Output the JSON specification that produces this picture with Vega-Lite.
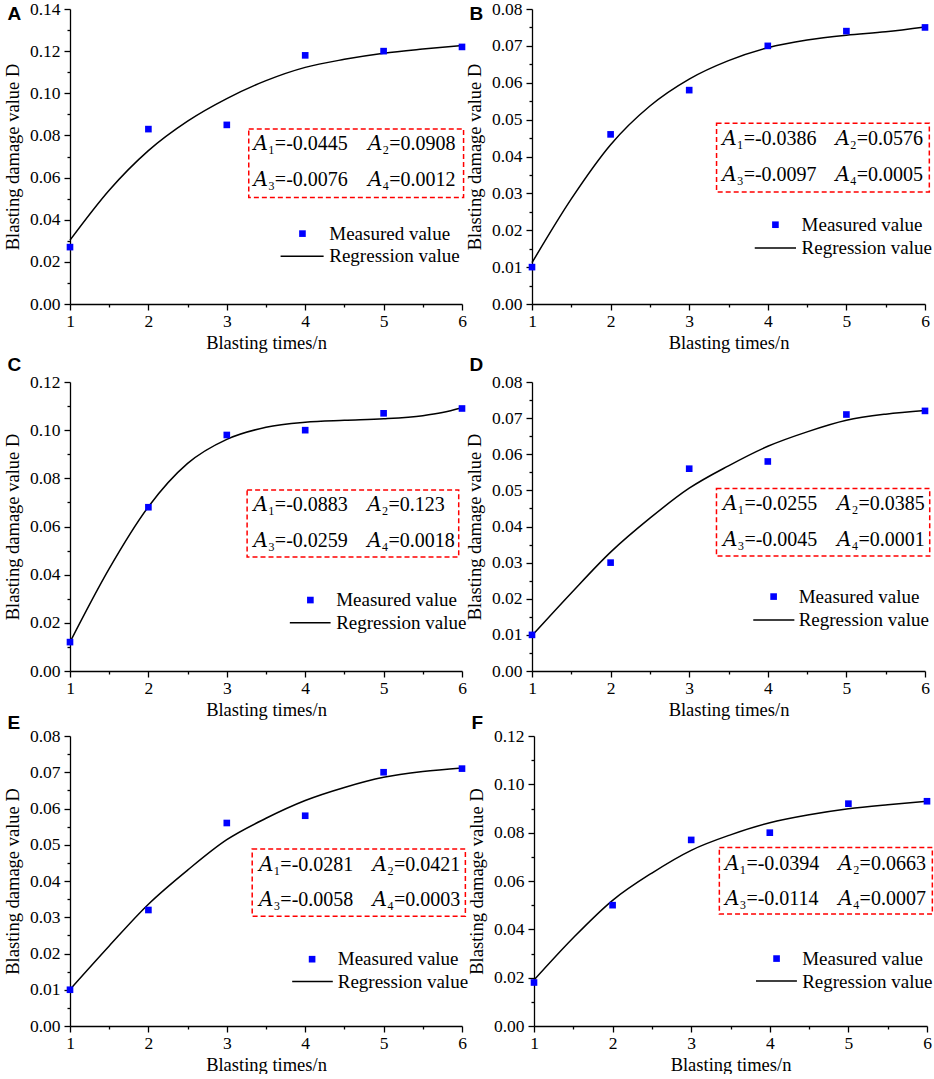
{
  "$schema": "https://vega.github.io/schema/vega-lite/v6.json",
  "padding": {"left": 3, "top": 0, "right": 0, "bottom": 0},
  "background": "white",
  "config": {
    "view": {"stroke": null},
    "font": "Liberation Serif",
    "axis": {"domainColor": "black", "domainWidth": 1.3, "tickColor": "black", "tickWidth": 1.3, "grid": false,
      "labelFont": "Liberation Serif", "labelFontSize": 17.5, "labelColor": "black", "labelFlush": false, "labelOverlap": false,
      "titleFont": "Liberation Serif", "titleFontSize": 18.5, "titleFontWeight": "normal", "titleColor": "black"},
    "axisX": {"titlePadding": 4, "labelPadding": 2},
    "axisY": {"titlePadding": 7, "labelPadding": 4},
    "title": {"font": "Liberation Sans", "fontSize": 19, "fontWeight": "bold", "anchor": "start", "frame": "bounds", "color": "black", "dx": 4},
    "text": {"font": "Liberation Serif, DejaVu Serif", "color": "black"}
  },
  "datasets": {
    "measured": [
      {"panel": "A", "n": 1, "D": 0.027}, {"panel": "A", "n": 2, "D": 0.083}, {"panel": "A", "n": 3, "D": 0.085},
      {"panel": "A", "n": 4, "D": 0.118}, {"panel": "A", "n": 5, "D": 0.120}, {"panel": "A", "n": 6, "D": 0.122},
      {"panel": "B", "n": 1, "D": 0.010}, {"panel": "B", "n": 2, "D": 0.046}, {"panel": "B", "n": 3, "D": 0.058},
      {"panel": "B", "n": 4, "D": 0.070}, {"panel": "B", "n": 5, "D": 0.074}, {"panel": "B", "n": 6, "D": 0.075},
      {"panel": "C", "n": 1, "D": 0.012}, {"panel": "C", "n": 2, "D": 0.068}, {"panel": "C", "n": 3, "D": 0.098},
      {"panel": "C", "n": 4, "D": 0.100}, {"panel": "C", "n": 5, "D": 0.107}, {"panel": "C", "n": 6, "D": 0.109},
      {"panel": "D", "n": 1, "D": 0.010}, {"panel": "D", "n": 2, "D": 0.030}, {"panel": "D", "n": 3, "D": 0.056},
      {"panel": "D", "n": 4, "D": 0.058}, {"panel": "D", "n": 5, "D": 0.071}, {"panel": "D", "n": 6, "D": 0.072},
      {"panel": "E", "n": 1, "D": 0.010}, {"panel": "E", "n": 2, "D": 0.032}, {"panel": "E", "n": 3, "D": 0.056},
      {"panel": "E", "n": 4, "D": 0.058}, {"panel": "E", "n": 5, "D": 0.070}, {"panel": "E", "n": 6, "D": 0.071},
      {"panel": "F", "n": 1, "D": 0.018}, {"panel": "F", "n": 2, "D": 0.050}, {"panel": "F", "n": 3, "D": 0.077},
      {"panel": "F", "n": 4, "D": 0.080}, {"panel": "F", "n": 5, "D": 0.092}, {"panel": "F", "n": 6, "D": 0.093}
    ],
    "curve": [
      {"panel": "A", "n": 1, "D": 0.0303}, {"panel": "A", "n": 1.5, "D": 0.054}, {"panel": "A", "n": 2, "D": 0.0728},
      {"panel": "A", "n": 2.5, "D": 0.0868}, {"panel": "A", "n": 3, "D": 0.0975}, {"panel": "A", "n": 3.5, "D": 0.106},
      {"panel": "A", "n": 4, "D": 0.1123}, {"panel": "A", "n": 4.5, "D": 0.1161}, {"panel": "A", "n": 5, "D": 0.119},
      {"panel": "A", "n": 5.5, "D": 0.121}, {"panel": "A", "n": 6, "D": 0.1227},
      {"panel": "B", "n": 1, "D": 0.0112}, {"panel": "B", "n": 1.5, "D": 0.0285}, {"panel": "B", "n": 2, "D": 0.0432},
      {"panel": "B", "n": 2.5, "D": 0.0537}, {"panel": "B", "n": 3, "D": 0.061}, {"panel": "B", "n": 3.5, "D": 0.066},
      {"panel": "B", "n": 4, "D": 0.0695}, {"panel": "B", "n": 4.5, "D": 0.0716}, {"panel": "B", "n": 5, "D": 0.0729},
      {"panel": "B", "n": 5.5, "D": 0.0738}, {"panel": "B", "n": 6, "D": 0.0751},
      {"panel": "C", "n": 1, "D": 0.012}, {"panel": "C", "n": 1.5, "D": 0.0425}, {"panel": "C", "n": 2, "D": 0.0682},
      {"panel": "C", "n": 2.5, "D": 0.0862}, {"panel": "C", "n": 3, "D": 0.0962}, {"panel": "C", "n": 3.5, "D": 0.1012},
      {"panel": "C", "n": 4, "D": 0.1033}, {"panel": "C", "n": 4.5, "D": 0.1041}, {"panel": "C", "n": 5, "D": 0.1047},
      {"panel": "C", "n": 5.5, "D": 0.106}, {"panel": "C", "n": 5.75, "D": 0.1073}, {"panel": "C", "n": 6, "D": 0.1093},
      {"panel": "D", "n": 1, "D": 0.0098}, {"panel": "D", "n": 1.5, "D": 0.0216}, {"panel": "D", "n": 2, "D": 0.0329},
      {"panel": "D", "n": 2.5, "D": 0.0423}, {"panel": "D", "n": 3, "D": 0.0506}, {"panel": "D", "n": 3.5, "D": 0.0568},
      {"panel": "D", "n": 4, "D": 0.0622}, {"panel": "D", "n": 4.5, "D": 0.0662}, {"panel": "D", "n": 5, "D": 0.0694},
      {"panel": "D", "n": 5.5, "D": 0.0711}, {"panel": "D", "n": 6, "D": 0.0721},
      {"panel": "E", "n": 1, "D": 0.0101}, {"panel": "E", "n": 1.5, "D": 0.0221}, {"panel": "E", "n": 2, "D": 0.0336},
      {"panel": "E", "n": 2.5, "D": 0.043}, {"panel": "E", "n": 3, "D": 0.0514}, {"panel": "E", "n": 3.5, "D": 0.0573},
      {"panel": "E", "n": 4, "D": 0.0622}, {"panel": "E", "n": 4.5, "D": 0.0658}, {"panel": "E", "n": 5, "D": 0.0686},
      {"panel": "E", "n": 5.5, "D": 0.0702}, {"panel": "E", "n": 6, "D": 0.0712},
      {"panel": "F", "n": 1, "D": 0.019}, {"panel": "F", "n": 1.5, "D": 0.0365}, {"panel": "F", "n": 2, "D": 0.052},
      {"panel": "F", "n": 2.5, "D": 0.0633}, {"panel": "F", "n": 3, "D": 0.0727}, {"panel": "F", "n": 3.5, "D": 0.0791},
      {"panel": "F", "n": 4, "D": 0.0841}, {"panel": "F", "n": 4.5, "D": 0.0874}, {"panel": "F", "n": 5, "D": 0.0899},
      {"panel": "F", "n": 5.5, "D": 0.0916}, {"panel": "F", "n": 6, "D": 0.093}
    ],
    "params": [
      {"panel": "A", "left": ["𝐴₁=-0.0445", "𝐴₃=-0.0076"], "right": ["𝐴₂=0.0908", "𝐴₄=0.0012"]},
      {"panel": "B", "left": ["𝐴₁=-0.0386", "𝐴₃=-0.0097"], "right": ["𝐴₂=0.0576", "𝐴₄=0.0005"]},
      {"panel": "C", "left": ["𝐴₁=-0.0883", "𝐴₃=-0.0259"], "right": ["𝐴₂=0.123", "𝐴₄=0.0018"]},
      {"panel": "D", "left": ["𝐴₁=-0.0255", "𝐴₃=-0.0045"], "right": ["𝐴₂=0.0385", "𝐴₄=0.0001"]},
      {"panel": "E", "left": ["𝐴₁=-0.0281", "𝐴₃=-0.0058"], "right": ["𝐴₂=0.0421", "𝐴₄=0.0003"]},
      {"panel": "F", "left": ["𝐴₁=-0.0394", "𝐴₃=-0.0114"], "right": ["𝐴₂=0.0663", "𝐴₄=0.0007"]}
    ]
  },
  "spacing": 4,
  "vconcat": [
    {
      "spacing": -2,
      "hconcat": [
        {
          "width": 392, "height": 295,
          "title": {"text": "A", "offset": -24},
          "resolve": {"axis": {"x": "independent", "y": "independent"}},
          "layer": [
            {
              "encoding": {
                "x": {"field": "n", "type": "quantitative", "title": "Blasting times/n", "scale": {"domain": [1, 6], "nice": false},
                  "axis": {"orient": "bottom", "values": [1, 1.5, 2, 2.5, 3, 3.5, 4, 4.5, 5, 5.5, 6], "labelExpr": "datum.value % 1 === 0 ? format(datum.value, 'd') : ''",
                    "tickSize": {"condition": {"test": "datum.value % 1 === 0", "value": 6}, "value": 3}}},
                "y": {"field": "D", "type": "quantitative", "title": "Blasting damage value D", "scale": {"domain": [0, 0.14], "nice": false},
                  "axis": {"orient": "left", "values": [0, 0.01, 0.02, 0.03, 0.04, 0.05, 0.06, 0.07, 0.08, 0.09, 0.1, 0.11, 0.12, 0.13, 0.14],
                    "labelExpr": "abs(datum.value*50 - round(datum.value*50)) < 1e-6 ? format(datum.value, '.2f') : ''",
                    "tickSize": {"condition": {"test": "abs(datum.value*50 - round(datum.value*50)) < 1e-6", "value": 6}, "value": 3}}}
              },
              "layer": [
                {"data": {"name": "curve"}, "transform": [{"filter": "datum.panel === 'A'"}], "mark": {"type": "line", "color": "black", "strokeWidth": 1.5, "interpolate": "monotone"}},
                {"data": {"name": "measured"}, "transform": [{"filter": "datum.panel === 'A'"}], "mark": {"type": "square", "color": "#0000ff", "size": 44, "opacity": 1}}
              ]
            },
            {"data": {"name": "params"}, "transform": [{"filter": "datum.panel === 'A'"}], "mark": {"type": "rect", "fill": "transparent", "stroke": "#ff0000", "strokeWidth": 1.5, "strokeDash": [5, 3]},
              "encoding": {"x": {"datum": 3.28, "type": "quantitative", "axis": null}, "x2": {"datum": 6.02}, "y": {"datum": 0.0831, "type": "quantitative", "axis": null}, "y2": {"datum": 0.0506}}},
            {"data": {"name": "params"}, "transform": [{"filter": "datum.panel === 'A'"}], "mark": {"type": "text", "align": "left", "baseline": "middle", "fontSize": 20, "lineHeight": 35.5},
              "encoding": {"x": {"datum": 3.34, "type": "quantitative", "axis": null}, "y": {"datum": 0.0758, "type": "quantitative", "axis": null}, "text": {"field": "left"}}},
            {"data": {"name": "params"}, "transform": [{"filter": "datum.panel === 'A'"}], "mark": {"type": "text", "align": "left", "baseline": "middle", "fontSize": 20, "lineHeight": 35.5},
              "encoding": {"x": {"datum": 4.80, "type": "quantitative", "axis": null}, "y": {"datum": 0.0758, "type": "quantitative", "axis": null}, "text": {"field": "right"}}},
            {"data": {"name": "params"}, "transform": [{"filter": "datum.panel === 'A'"}], "mark": {"type": "square", "color": "#0000ff", "size": 44, "opacity": 1},
              "encoding": {"x": {"datum": 3.965, "type": "quantitative", "axis": null}, "y": {"datum": 0.0334, "type": "quantitative", "axis": null}}},
            {"data": {"name": "params"}, "transform": [{"filter": "datum.panel === 'A'"}], "mark": {"type": "rule", "color": "black", "strokeWidth": 1.5},
              "encoding": {"x": {"datum": 3.686, "type": "quantitative", "axis": null}, "x2": {"datum": 4.235}, "y": {"datum": 0.0227, "type": "quantitative", "axis": null}}},
            {"data": {"name": "params"}, "transform": [{"filter": "datum.panel === 'A'"}], "mark": {"type": "text", "align": "left", "baseline": "middle", "fontSize": 19, "lineHeight": 22.6, "text": ["Measured value", "Regression value"]},
              "encoding": {"x": {"datum": 4.307, "type": "quantitative", "axis": null}, "y": {"datum": 0.0334, "type": "quantitative", "axis": null}}}
          ]
        },
        {
          "width": 393, "height": 295,
          "title": {"text": "B", "offset": -24},
          "resolve": {"axis": {"x": "independent", "y": "independent"}},
          "layer": [
            {
              "encoding": {
                "x": {"field": "n", "type": "quantitative", "title": "Blasting times/n", "scale": {"domain": [1, 6], "nice": false},
                  "axis": {"orient": "bottom", "values": [1, 1.5, 2, 2.5, 3, 3.5, 4, 4.5, 5, 5.5, 6], "labelExpr": "datum.value % 1 === 0 ? format(datum.value, 'd') : ''",
                    "tickSize": {"condition": {"test": "datum.value % 1 === 0", "value": 6}, "value": 3}}},
                "y": {"field": "D", "type": "quantitative", "title": "Blasting damage value D", "scale": {"domain": [0, 0.08], "nice": false},
                  "axis": {"orient": "left", "values": [0, 0.005, 0.01, 0.015, 0.02, 0.025, 0.03, 0.035, 0.04, 0.045, 0.05, 0.055, 0.06, 0.065, 0.07, 0.075, 0.08],
                    "labelExpr": "abs(datum.value*100 - round(datum.value*100)) < 1e-6 ? format(datum.value, '.2f') : ''",
                    "tickSize": {"condition": {"test": "abs(datum.value*100 - round(datum.value*100)) < 1e-6", "value": 6}, "value": 3}}}
              },
              "layer": [
                {"data": {"name": "curve"}, "transform": [{"filter": "datum.panel === 'B'"}], "mark": {"type": "line", "color": "black", "strokeWidth": 1.5, "interpolate": "monotone"}},
                {"data": {"name": "measured"}, "transform": [{"filter": "datum.panel === 'B'"}], "mark": {"type": "square", "color": "#0000ff", "size": 44, "opacity": 1}}
              ]
            },
            {"data": {"name": "params"}, "transform": [{"filter": "datum.panel === 'B'"}], "mark": {"type": "rect", "fill": "transparent", "stroke": "#ff0000", "strokeWidth": 1.5, "strokeDash": [5, 3]},
              "encoding": {"x": {"datum": 3.348, "type": "quantitative", "axis": null}, "x2": {"datum": 6.055}, "y": {"datum": 0.049, "type": "quantitative", "axis": null}, "y2": {"datum": 0.0304}}},
            {"data": {"name": "params"}, "transform": [{"filter": "datum.panel === 'B'"}], "mark": {"type": "text", "align": "left", "baseline": "middle", "fontSize": 20, "lineHeight": 35.5},
              "encoding": {"x": {"datum": 3.42, "type": "quantitative", "axis": null}, "y": {"datum": 0.0447, "type": "quantitative", "axis": null}, "text": {"field": "left"}}},
            {"data": {"name": "params"}, "transform": [{"filter": "datum.panel === 'B'"}], "mark": {"type": "text", "align": "left", "baseline": "middle", "fontSize": 20, "lineHeight": 35.5},
              "encoding": {"x": {"datum": 4.86, "type": "quantitative", "axis": null}, "y": {"datum": 0.0447, "type": "quantitative", "axis": null}, "text": {"field": "right"}}},
            {"data": {"name": "params"}, "transform": [{"filter": "datum.panel === 'B'"}], "mark": {"type": "square", "color": "#0000ff", "size": 44, "opacity": 1},
              "encoding": {"x": {"datum": 4.097, "type": "quantitative", "axis": null}, "y": {"datum": 0.0215, "type": "quantitative", "axis": null}}},
            {"data": {"name": "params"}, "transform": [{"filter": "datum.panel === 'B'"}], "mark": {"type": "rule", "color": "black", "strokeWidth": 1.5},
              "encoding": {"x": {"datum": 3.834, "type": "quantitative", "axis": null}, "x2": {"datum": 4.359}, "y": {"datum": 0.0152, "type": "quantitative", "axis": null}}},
            {"data": {"name": "params"}, "transform": [{"filter": "datum.panel === 'B'"}], "mark": {"type": "text", "align": "left", "baseline": "middle", "fontSize": 19, "lineHeight": 23, "text": ["Measured value", "Regression value"]},
              "encoding": {"x": {"datum": 4.43, "type": "quantitative", "axis": null}, "y": {"datum": 0.0215, "type": "quantitative", "axis": null}}}
          ]
        }
      ]
    },
    {
      "spacing": -5,
      "vconcat": [
        {
          "spacing": -2,
          "hconcat": [
            {
              "width": 392, "height": 289,
              "title": {"text": "C", "offset": -24, "dy": -22},
              "resolve": {"axis": {"x": "independent", "y": "independent"}},
              "layer": [
                {
                  "encoding": {
                    "x": {"field": "n", "type": "quantitative", "title": "Blasting times/n", "scale": {"domain": [1, 6], "nice": false},
                      "axis": {"orient": "bottom", "values": [1, 1.5, 2, 2.5, 3, 3.5, 4, 4.5, 5, 5.5, 6], "labelExpr": "datum.value % 1 === 0 ? format(datum.value, 'd') : ''",
                        "tickSize": {"condition": {"test": "datum.value % 1 === 0", "value": 6}, "value": 3}}},
                    "y": {"field": "D", "type": "quantitative", "title": "Blasting damage value D", "scale": {"domain": [0, 0.12], "nice": false},
                      "axis": {"orient": "left", "values": [0, 0.01, 0.02, 0.03, 0.04, 0.05, 0.06, 0.07, 0.08, 0.09, 0.1, 0.11, 0.12],
                        "labelExpr": "abs(datum.value*50 - round(datum.value*50)) < 1e-6 ? format(datum.value, '.2f') : ''",
                        "tickSize": {"condition": {"test": "abs(datum.value*50 - round(datum.value*50)) < 1e-6", "value": 6}, "value": 3}}}
                  },
                  "layer": [
                    {"data": {"name": "curve"}, "transform": [{"filter": "datum.panel === 'C'"}], "mark": {"type": "line", "color": "black", "strokeWidth": 1.5, "interpolate": "monotone"}},
                    {"data": {"name": "measured"}, "transform": [{"filter": "datum.panel === 'C'"}], "mark": {"type": "square", "color": "#0000ff", "size": 44, "opacity": 1}}
                  ]
                },
                {"data": {"name": "params"}, "transform": [{"filter": "datum.panel === 'C'"}], "mark": {"type": "rect", "fill": "transparent", "stroke": "#ff0000", "strokeWidth": 1.5, "strokeDash": [5, 3]},
                  "encoding": {"x": {"datum": 3.259, "type": "quantitative", "axis": null}, "x2": {"datum": 5.958}, "y": {"datum": 0.0752, "type": "quantitative", "axis": null}, "y2": {"datum": 0.0473}}},
                {"data": {"name": "params"}, "transform": [{"filter": "datum.panel === 'C'"}], "mark": {"type": "text", "align": "left", "baseline": "middle", "fontSize": 20, "lineHeight": 35.5},
                  "encoding": {"x": {"datum": 3.34, "type": "quantitative", "axis": null}, "y": {"datum": 0.0689, "type": "quantitative", "axis": null}, "text": {"field": "left"}}},
                {"data": {"name": "params"}, "transform": [{"filter": "datum.panel === 'C'"}], "mark": {"type": "text", "align": "left", "baseline": "middle", "fontSize": 20, "lineHeight": 35.5},
                  "encoding": {"x": {"datum": 4.79, "type": "quantitative", "axis": null}, "y": {"datum": 0.0689, "type": "quantitative", "axis": null}, "text": {"field": "right"}}},
                {"data": {"name": "params"}, "transform": [{"filter": "datum.panel === 'C'"}], "mark": {"type": "square", "color": "#0000ff", "size": 44, "opacity": 1},
                  "encoding": {"x": {"datum": 4.066, "type": "quantitative", "axis": null}, "y": {"datum": 0.02946, "type": "quantitative", "axis": null}}},
                {"data": {"name": "params"}, "transform": [{"filter": "datum.panel === 'C'"}], "mark": {"type": "rule", "color": "black", "strokeWidth": 1.5},
                  "encoding": {"x": {"datum": 3.804, "type": "quantitative", "axis": null}, "x2": {"datum": 4.324}, "y": {"datum": 0.02006, "type": "quantitative", "axis": null}}},
                {"data": {"name": "params"}, "transform": [{"filter": "datum.panel === 'C'"}], "mark": {"type": "text", "align": "left", "baseline": "middle", "fontSize": 19, "lineHeight": 23, "text": ["Measured value", "Regression value"]},
                  "encoding": {"x": {"datum": 4.395, "type": "quantitative", "axis": null}, "y": {"datum": 0.02946, "type": "quantitative", "axis": null}}}
              ]
            },
            {
              "width": 393, "height": 289,
              "title": {"text": "D", "offset": -24, "dy": -22},
              "resolve": {"axis": {"x": "independent", "y": "independent"}},
              "layer": [
                {
                  "encoding": {
                    "x": {"field": "n", "type": "quantitative", "title": "Blasting times/n", "scale": {"domain": [1, 6], "nice": false},
                      "axis": {"orient": "bottom", "values": [1, 1.5, 2, 2.5, 3, 3.5, 4, 4.5, 5, 5.5, 6], "labelExpr": "datum.value % 1 === 0 ? format(datum.value, 'd') : ''",
                        "tickSize": {"condition": {"test": "datum.value % 1 === 0", "value": 6}, "value": 3}}},
                    "y": {"field": "D", "type": "quantitative", "title": "Blasting damage value D", "scale": {"domain": [0, 0.08], "nice": false},
                      "axis": {"orient": "left", "values": [0, 0.005, 0.01, 0.015, 0.02, 0.025, 0.03, 0.035, 0.04, 0.045, 0.05, 0.055, 0.06, 0.065, 0.07, 0.075, 0.08],
                        "labelExpr": "abs(datum.value*100 - round(datum.value*100)) < 1e-6 ? format(datum.value, '.2f') : ''",
                        "tickSize": {"condition": {"test": "abs(datum.value*100 - round(datum.value*100)) < 1e-6", "value": 6}, "value": 3}}}
                  },
                  "layer": [
                    {"data": {"name": "curve"}, "transform": [{"filter": "datum.panel === 'D'"}], "mark": {"type": "line", "color": "black", "strokeWidth": 1.5, "interpolate": "monotone"}},
                    {"data": {"name": "measured"}, "transform": [{"filter": "datum.panel === 'D'"}], "mark": {"type": "square", "color": "#0000ff", "size": 44, "opacity": 1}}
                  ]
                },
                {"data": {"name": "params"}, "transform": [{"filter": "datum.panel === 'D'"}], "mark": {"type": "rect", "fill": "transparent", "stroke": "#ff0000", "strokeWidth": 1.5, "strokeDash": [5, 3]},
                  "encoding": {"x": {"datum": 3.347, "type": "quantitative", "axis": null}, "x2": {"datum": 6.06}, "y": {"datum": 0.0505, "type": "quantitative", "axis": null}, "y2": {"datum": 0.0318}}},
                {"data": {"name": "params"}, "transform": [{"filter": "datum.panel === 'D'"}], "mark": {"type": "text", "align": "left", "baseline": "middle", "fontSize": 20, "lineHeight": 35.5},
                  "encoding": {"x": {"datum": 3.43, "type": "quantitative", "axis": null}, "y": {"datum": 0.0462, "type": "quantitative", "axis": null}, "text": {"field": "left"}}},
                {"data": {"name": "params"}, "transform": [{"filter": "datum.panel === 'D'"}], "mark": {"type": "text", "align": "left", "baseline": "middle", "fontSize": 20, "lineHeight": 35.5},
                  "encoding": {"x": {"datum": 4.88, "type": "quantitative", "axis": null}, "y": {"datum": 0.0462, "type": "quantitative", "axis": null}, "text": {"field": "right"}}},
                {"data": {"name": "params"}, "transform": [{"filter": "datum.panel === 'D'"}], "mark": {"type": "square", "color": "#0000ff", "size": 44, "opacity": 1},
                  "encoding": {"x": {"datum": 4.074, "type": "quantitative", "axis": null}, "y": {"datum": 0.0206, "type": "quantitative", "axis": null}}},
                {"data": {"name": "params"}, "transform": [{"filter": "datum.panel === 'D'"}], "mark": {"type": "rule", "color": "black", "strokeWidth": 1.5},
                  "encoding": {"x": {"datum": 3.815, "type": "quantitative", "axis": null}, "x2": {"datum": 4.338}, "y": {"datum": 0.01413, "type": "quantitative", "axis": null}}},
                {"data": {"name": "params"}, "transform": [{"filter": "datum.panel === 'D'"}], "mark": {"type": "text", "align": "left", "baseline": "middle", "fontSize": 19, "lineHeight": 23, "text": ["Measured value", "Regression value"]},
                  "encoding": {"x": {"datum": 4.393, "type": "quantitative", "axis": null}, "y": {"datum": 0.0206, "type": "quantitative", "axis": null}}}
              ]
            }
          ]
        },
        {
          "spacing": -2,
          "hconcat": [
            {
              "width": 392, "height": 290,
              "title": {"text": "E", "offset": -24, "dy": -18},
              "resolve": {"axis": {"x": "independent", "y": "independent"}},
              "layer": [
                {
                  "encoding": {
                    "x": {"field": "n", "type": "quantitative", "title": "Blasting times/n", "scale": {"domain": [1, 6], "nice": false},
                      "axis": {"orient": "bottom", "values": [1, 1.5, 2, 2.5, 3, 3.5, 4, 4.5, 5, 5.5, 6], "labelExpr": "datum.value % 1 === 0 ? format(datum.value, 'd') : ''",
                        "tickSize": {"condition": {"test": "datum.value % 1 === 0", "value": 6}, "value": 3}}},
                    "y": {"field": "D", "type": "quantitative", "title": "Blasting damage value D", "scale": {"domain": [0, 0.08], "nice": false},
                      "axis": {"orient": "left", "values": [0, 0.005, 0.01, 0.015, 0.02, 0.025, 0.03, 0.035, 0.04, 0.045, 0.05, 0.055, 0.06, 0.065, 0.07, 0.075, 0.08],
                        "labelExpr": "abs(datum.value*100 - round(datum.value*100)) < 1e-6 ? format(datum.value, '.2f') : ''",
                        "tickSize": {"condition": {"test": "abs(datum.value*100 - round(datum.value*100)) < 1e-6", "value": 6}, "value": 3}}}
                  },
                  "layer": [
                    {"data": {"name": "curve"}, "transform": [{"filter": "datum.panel === 'E'"}], "mark": {"type": "line", "color": "black", "strokeWidth": 1.5, "interpolate": "monotone"}},
                    {"data": {"name": "measured"}, "transform": [{"filter": "datum.panel === 'E'"}], "mark": {"type": "square", "color": "#0000ff", "size": 44, "opacity": 1}}
                  ]
                },
                {"data": {"name": "params"}, "transform": [{"filter": "datum.panel === 'E'"}], "mark": {"type": "rect", "fill": "transparent", "stroke": "#ff0000", "strokeWidth": 1.5, "strokeDash": [5, 3]},
                  "encoding": {"x": {"datum": 3.324, "type": "quantitative", "axis": null}, "x2": {"datum": 6.043}, "y": {"datum": 0.0488, "type": "quantitative", "axis": null}, "y2": {"datum": 0.0303}}},
                {"data": {"name": "params"}, "transform": [{"filter": "datum.panel === 'E'"}], "mark": {"type": "text", "align": "left", "baseline": "middle", "fontSize": 20, "lineHeight": 35.5},
                  "encoding": {"x": {"datum": 3.41, "type": "quantitative", "axis": null}, "y": {"datum": 0.0445, "type": "quantitative", "axis": null}, "text": {"field": "left"}}},
                {"data": {"name": "params"}, "transform": [{"filter": "datum.panel === 'E'"}], "mark": {"type": "text", "align": "left", "baseline": "middle", "fontSize": 20, "lineHeight": 35.5},
                  "encoding": {"x": {"datum": 4.86, "type": "quantitative", "axis": null}, "y": {"datum": 0.0445, "type": "quantitative", "axis": null}, "text": {"field": "right"}}},
                {"data": {"name": "params"}, "transform": [{"filter": "datum.panel === 'E'"}], "mark": {"type": "square", "color": "#0000ff", "size": 44, "opacity": 1},
                  "encoding": {"x": {"datum": 4.088, "type": "quantitative", "axis": null}, "y": {"datum": 0.01843, "type": "quantitative", "axis": null}}},
                {"data": {"name": "params"}, "transform": [{"filter": "datum.panel === 'E'"}], "mark": {"type": "rule", "color": "black", "strokeWidth": 1.5},
                  "encoding": {"x": {"datum": 3.834, "type": "quantitative", "axis": null}, "x2": {"datum": 4.352}, "y": {"datum": 0.01226, "type": "quantitative", "axis": null}}},
                {"data": {"name": "params"}, "transform": [{"filter": "datum.panel === 'E'"}], "mark": {"type": "text", "align": "left", "baseline": "middle", "fontSize": 19, "lineHeight": 23, "text": ["Measured value", "Regression value"]},
                  "encoding": {"x": {"datum": 4.415, "type": "quantitative", "axis": null}, "y": {"datum": 0.01843, "type": "quantitative", "axis": null}}}
              ]
            },
            {
              "width": 393, "height": 290,
              "title": {"text": "F", "offset": -24, "dy": -18},
              "resolve": {"axis": {"x": "independent", "y": "independent"}},
              "layer": [
                {
                  "encoding": {
                    "x": {"field": "n", "type": "quantitative", "title": "Blasting times/n", "scale": {"domain": [1, 6], "nice": false},
                      "axis": {"orient": "bottom", "values": [1, 1.5, 2, 2.5, 3, 3.5, 4, 4.5, 5, 5.5, 6], "labelExpr": "datum.value % 1 === 0 ? format(datum.value, 'd') : ''",
                        "tickSize": {"condition": {"test": "datum.value % 1 === 0", "value": 6}, "value": 3}}},
                    "y": {"field": "D", "type": "quantitative", "title": "Blasting damage value D", "scale": {"domain": [0, 0.12], "nice": false},
                      "axis": {"orient": "left", "values": [0, 0.01, 0.02, 0.03, 0.04, 0.05, 0.06, 0.07, 0.08, 0.09, 0.1, 0.11, 0.12],
                        "labelExpr": "abs(datum.value*50 - round(datum.value*50)) < 1e-6 ? format(datum.value, '.2f') : ''",
                        "tickSize": {"condition": {"test": "abs(datum.value*50 - round(datum.value*50)) < 1e-6", "value": 6}, "value": 3}}}
                  },
                  "layer": [
                    {"data": {"name": "curve"}, "transform": [{"filter": "datum.panel === 'F'"}], "mark": {"type": "line", "color": "black", "strokeWidth": 1.5, "interpolate": "monotone"}},
                    {"data": {"name": "measured"}, "transform": [{"filter": "datum.panel === 'F'"}], "mark": {"type": "square", "color": "#0000ff", "size": 44, "opacity": 1}}
                  ]
                },
                {"data": {"name": "params"}, "transform": [{"filter": "datum.panel === 'F'"}], "mark": {"type": "rect", "fill": "transparent", "stroke": "#ff0000", "strokeWidth": 1.5, "strokeDash": [5, 3]},
                  "encoding": {"x": {"datum": 3.358, "type": "quantitative", "axis": null}, "x2": {"datum": 6.068}, "y": {"datum": 0.0739, "type": "quantitative", "axis": null}, "y2": {"datum": 0.0463}}},
                {"data": {"name": "params"}, "transform": [{"filter": "datum.panel === 'F'"}], "mark": {"type": "text", "align": "left", "baseline": "middle", "fontSize": 20, "lineHeight": 35.5},
                  "encoding": {"x": {"datum": 3.43, "type": "quantitative", "axis": null}, "y": {"datum": 0.0672, "type": "quantitative", "axis": null}, "text": {"field": "left"}}},
                {"data": {"name": "params"}, "transform": [{"filter": "datum.panel === 'F'"}], "mark": {"type": "text", "align": "left", "baseline": "middle", "fontSize": 20, "lineHeight": 35.5},
                  "encoding": {"x": {"datum": 4.87, "type": "quantitative", "axis": null}, "y": {"datum": 0.0672, "type": "quantitative", "axis": null}, "text": {"field": "right"}}},
                {"data": {"name": "params"}, "transform": [{"filter": "datum.panel === 'F'"}], "mark": {"type": "square", "color": "#0000ff", "size": 44, "opacity": 1},
                  "encoding": {"x": {"datum": 4.086, "type": "quantitative", "axis": null}, "y": {"datum": 0.0279, "type": "quantitative", "axis": null}}},
                {"data": {"name": "params"}, "transform": [{"filter": "datum.panel === 'F'"}], "mark": {"type": "rule", "color": "black", "strokeWidth": 1.5},
                  "encoding": {"x": {"datum": 3.824, "type": "quantitative", "axis": null}, "x2": {"datum": 4.345}, "y": {"datum": 0.01862, "type": "quantitative", "axis": null}}},
                {"data": {"name": "params"}, "transform": [{"filter": "datum.panel === 'F'"}], "mark": {"type": "text", "align": "left", "baseline": "middle", "fontSize": 19, "lineHeight": 23, "text": ["Measured value", "Regression value"]},
                  "encoding": {"x": {"datum": 4.412, "type": "quantitative", "axis": null}, "y": {"datum": 0.0279, "type": "quantitative", "axis": null}}}
              ]
            }
          ]
        }
      ]
    }
  ]
}
